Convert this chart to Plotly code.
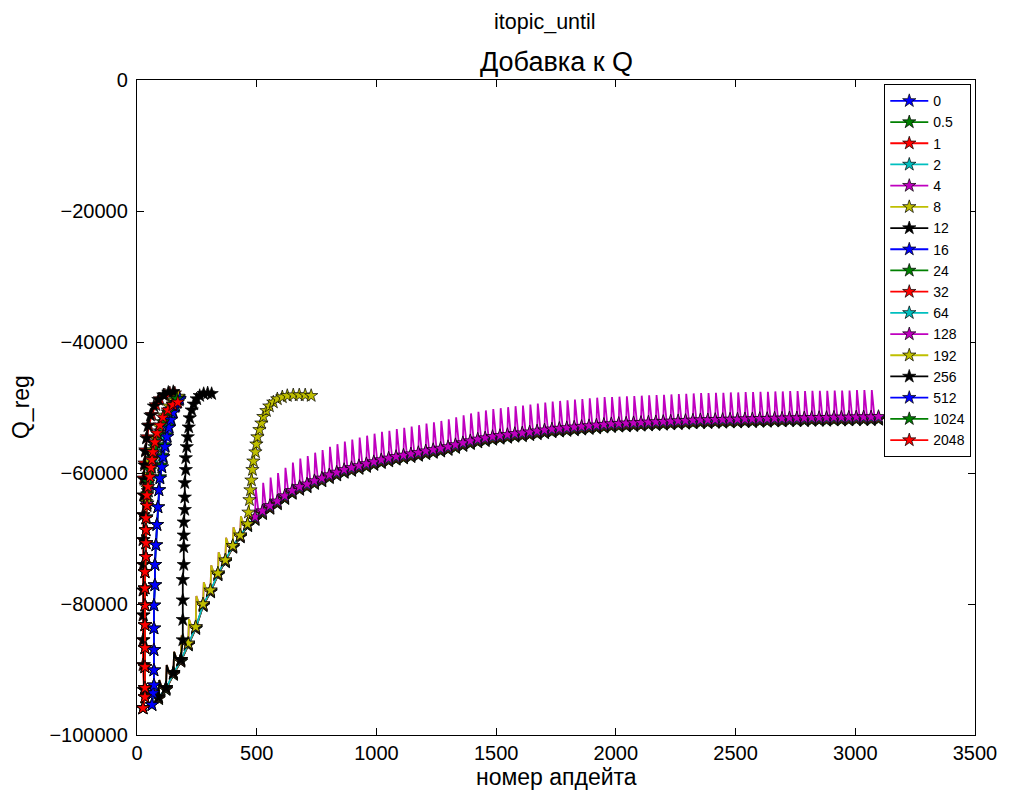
import plotly.graph_objects as go

# ---- series labels and matplotlib-classic colour cycle ----
series_names = ["0", "0.5", "1", "2", "4", "8", "12", "16", "24", "32",
                "64", "128", "192", "256", "512", "1024", "2048"]
cycle = ["#0000ff", "#008000", "#ff0000", "#00bfbf", "#bf00bf", "#bfbf00", "#000000"]

# ---- long runs: update number at the end of every pass ----
pass_updates = list(range(90, 3100, 31))

q4_trough = [
    -94200, -92800, -90500, -88500, -86000, -83500, -80000, -77900, -75300, -73300,
    -71100, -69500, -67800, -66700, -65800, -65000, -64300, -63500, -62700, -62100,
    -61700, -61200, -60800, -60300, -59900, -59500, -59200, -58900, -58600, -58300,
    -58000, -57750, -57500, -57300, -57100, -56900, -56650, -56450, -56250, -56000,
    -55700, -55400, -55100, -54850, -54650, -54450, -54300, -54150, -54000, -53900,
    -53750, -53600, -53450, -53300, -53200, -53100, -53000, -52900, -52800, -52700,
    -52600, -52500, -52450, -52400, -52350, -52300, -52250, -52200, -52150, -52100,
    -52050, -52000, -51950, -51900, -51900, -51850, -51850, -51800, -51800, -51750,
    -51750, -51700, -51700, -51650, -51650, -51600, -51600, -51600, -51550, -51550,
    -51550, -51500, -51500, -51500, -51450, -51450, -51450, -51400]
q4_peak = [
    -91600, -89300, -87300, -84800, -82300, -78800, -76700, -74100, -72100, -69900,
    -68300, -66600, -65500, -62400, -61500, -60700, -60000, -59200, -58400, -57800,
    -57400, -56900, -56500, -56000, -55600, -55200, -54900, -54600, -54300, -54000,
    -53700, -53550, -53300, -53100, -52900, -52700, -52450, -52250, -52050, -51800,
    -51500, -51200, -50900, -50650, -50450, -50250, -50100, -49950, -49800, -49700,
    -49550, -49400, -49250, -49100, -49000, -48900, -48800, -48700, -48600, -48500,
    -48400, -48400, -48350, -48300, -48250, -48200, -48150, -48100, -48050, -48000,
    -47950, -47900, -47850, -47800, -47800, -47750, -47750, -47700, -47700, -47650,
    -47650, -47600, -47600, -47550, -47550, -47500, -47500, -47500, -47450, -47450,
    -47450, -47400, -47400, -47400, -47350, -47350, -47350, -47300]
q2_trough = [
    -94300, -92900, -90600, -88600, -86100, -83600, -80100, -78000, -75400, -73400,
    -71200, -69600, -67900, -66850, -65950, -65150, -64450, -63650, -62850, -62250,
    -61850, -61350, -60950, -60450, -60050, -59650, -59350, -59050, -58750, -58450,
    -58150, -57900, -57650, -57450, -57250, -57050, -56800, -56600, -56400, -56150,
    -55850, -55550, -55250, -55000, -54800, -54600, -54450, -54300, -54150, -54050,
    -53900, -53750, -53600, -53450, -53350, -53250, -53150, -53050, -52950, -52850,
    -52750, -52650, -52600, -52550, -52500, -52450, -52400, -52350, -52300, -52250,
    -52200, -52150, -52100, -52050, -52050, -52000, -52000, -51950, -51950, -51900,
    -51900, -51850, -51850, -51800, -51800, -51750, -51750, -51750, -51700, -51700,
    -51700, -51650, -51650, -51650, -51600, -51600, -51600, -51550]
q1_trough = [
    -94400, -93000, -90700, -88700, -86200, -83700, -80200, -78100, -75500, -73500,
    -71300, -69700, -68000, -67000, -66100, -65300, -64600, -63800, -63000, -62400,
    -62000, -61500, -61100, -60600, -60200, -59800, -59500, -59200, -58900, -58600,
    -58300, -58050, -57800, -57600, -57400, -57200, -56950, -56750, -56550, -56300,
    -56000, -55700, -55400, -55150, -54950, -54750, -54600, -54450, -54300, -54200,
    -54050, -53900, -53750, -53600, -53500, -53400, -53300, -53200, -53100, -53000,
    -52900, -52800, -52750, -52700, -52650, -52600, -52550, -52500, -52450, -52400,
    -52350, -52300, -52250, -52200, -52200, -52150, -52150, -52100, -52100, -52050,
    -52050, -52000, -52000, -51950, -51950, -51900, -51900, -51900, -51850, -51850,
    -51850, -51800, -51800, -51800, -51750, -51750, -51750, -51700]
q05_trough = [
    -94500, -93100, -90800, -88800, -86300, -83800, -80300, -78200, -75600, -73600,
    -71400, -69800, -68100, -67150, -66250, -65450, -64750, -63950, -63150, -62550,
    -62150, -61650, -61250, -60750, -60350, -59950, -59650, -59350, -59050, -58750,
    -58450, -58200, -57950, -57750, -57550, -57350, -57100, -56900, -56700, -56450,
    -56150, -55850, -55550, -55300, -55100, -54900, -54750, -54600, -54450, -54350,
    -54200, -54050, -53900, -53750, -53650, -53550, -53450, -53350, -53250, -53150,
    -53050, -52950, -52900, -52850, -52800, -52750, -52700, -52650, -52600, -52550,
    -52500, -52450, -52400, -52350, -52350, -52300, -52300, -52250, -52250, -52200,
    -52200, -52150, -52150, -52100, -52100, -52050, -52050, -52050, -52000, -52000,
    -52000, -51950, -51950, -51950, -51900, -51900, -51900, -51850]
q0_trough = [
    -94450, -93050, -90750, -88750, -86250, -83750, -80250, -78150, -75550, -73550,
    -71350, -69750, -68050, -67100, -66200, -65400, -64700, -63900, -63100, -62500,
    -62100, -61600, -61200, -60700, -60300, -59900, -59600, -59300, -59000, -58700,
    -58400, -58150, -57900, -57700, -57500, -57300, -57050, -56850, -56650, -56400,
    -56100, -55800, -55500, -55250, -55050, -54850, -54700, -54550, -54400, -54300,
    -54150, -54000, -53850, -53700, -53600, -53500, -53400, -53300, -53200, -53100,
    -53000, -52900, -52850, -52800, -52750, -52700, -52650, -52600, -52550, -52500,
    -52450, -52400, -52350, -52300, -52300, -52250, -52250, -52200, -52200, -52150,
    -52150, -52100, -52100, -52050, -52050, -52000, -52000, -52000, -51950, -51950,
    -51950, -51900, -51900, -51900, -51850, -51850, -51850, -51800]

# ---- itopic_until = 8: shared passes, then a fast climb ----
q8_pass_trough = [-94200, -92800, -90500, -88500, -86000, -83500, -80000,
                  -77900, -75300, -73300, -71100, -69500, -67800]
q8_pass_peak = [-91600, -89300, -87300, -84800, -82300, -78800, -76700,
                -74100, -72100, -69900, -68300, -66600]
q8_x = [465.6, 469.7, 473.9, 478.0, 482.2, 486.3, 494.6, 498.8, 503.0, 511.3, 519.6,
        527.9, 540.4, 552.8, 569.5, 586.1, 606.9, 627.7, 652.6, 677.6, 702.5, 727.4]
q8_y = [-66000, -64100, -62600, -61100, -59500, -58200, -56800, -55600, -54500, -53400,
        -52400, -51400, -50500, -49800, -49200, -48700, -48400, -48200, -48100, -48100,
        -48100, -48200]

# ---- itopic_until = 12 ----
q12_pass_trough = [-94200, -92800, -90500, -88500]
q12_pass_peak = [-91600, -89300, -87300]
q12_x = [191.2, 191.2, 191.2, 191.2, 195.4, 195.4, 195.4, 195.4, 199.5, 199.5, 199.5,
         203.7, 203.7, 207.8, 212.0, 216.1, 220.3, 228.6, 237.0, 249.4, 261.9, 278.5,
         295.1, 311.7]
q12_y = [-85500, -82400, -79400, -76300, -74000, -71300, -69500, -67500, -65600, -63700,
         -61500, -59500, -57700, -56000, -54500, -53000, -51600, -50400, -49500, -48700,
         -48200, -47900, -47800, -47900]

# ---- short runs (itopic_until >= 16) ----
q16_x = [62.4, 66.5, 70.7, 70.7, 70.7, 70.7, 70.7, 74.8, 74.8, 79.0, 83.1, 87.3, 91.4,
         95.6, 103.9, 110.2, 118.5, 126.8, 135.1, 143.4, 151.7, 160.0, 168.3, 176.6]
q16_y = [-95400, -93600, -92400, -90100, -87000, -83700, -80200, -77100, -74000, -71000,
         -67900, -65200, -62600, -60800, -59100, -57500, -55900, -54400, -53000, -51800,
         -50700, -49800, -49200, -48600]
q24_x = [62.4, 66.5, 70.7, 70.7, 70.7, 70.7, 70.7, 74.8, 74.8, 79.0, 83.1, 87.3, 91.4,
         95.6, 101.9, 106.1, 114.4, 122.7, 131.0, 139.3, 147.6, 156.0, 164.3, 174.7]
q24_y = [-95400, -93600, -92400, -90100, -87000, -83700, -80200, -77100, -74000, -71000,
         -67900, -65200, -62600, -60600, -58800, -57300, -55700, -54200, -52800, -51600,
         -50500, -49600, -49000, -48400]
q32_x = [24.9, 29.1, 24.9, 24.9, 24.9, 24.9, 24.9, 24.9, 24.9, 27.0, 27.0, 31.2, 35.3,
         41.6, 49.9, 62.4, 79.0, 95.6, 116.4, 137.2, 158.0]
q32_y = [-95900, -93100, -89300, -85500, -81700, -77900, -74000, -70200, -66400, -63400,
         -60800, -58500, -56500, -54500, -52700, -51100, -49600, -48700, -48100, -47800,
         -47800]
q64_x = [24.9, 33.3, 33.3, 33.3, 33.3, 33.3, 33.3, 33.3, 33.3, 37.4, 37.4, 37.4, 39.5,
         43.6, 47.8, 54.0, 62.4, 70.7, 83.1, 99.8, 120.5, 141.3, 162.1, 176.6]
q64_y = [-95900, -94200, -92800, -89600, -86700, -83200, -80200, -77600, -75100, -72800,
         -70700, -68700, -66700, -64600, -62800, -61000, -59200, -57700, -56000, -54300,
         -52500, -50900, -49700, -48900]
q128_x = [24.9, 33.3, 33.3, 33.3, 33.3, 33.3, 33.3, 33.3, 33.3, 37.4, 37.4, 37.4, 37.4,
          41.6, 45.7, 49.9, 58.2, 66.5, 79.0, 95.6, 116.4, 137.2, 158.0, 174.6]
q128_y = [-95900, -94200, -92800, -89600, -86700, -83200, -80200, -77600, -75100, -72800,
          -70700, -68700, -66900, -64700, -62700, -60700, -58800, -57100, -55300, -53600,
          -51800, -50300, -49300, -48700]
q192_x = [24.9, 33.3, 33.3, 33.3, 33.3, 33.3, 33.3, 33.3, 33.3, 37.4, 37.4, 37.4, 37.4,
          39.5, 43.6, 47.8, 54.0, 62.4, 74.8, 91.4, 112.2, 133.0, 153.8, 172.5]
q192_y = [-95900, -94200, -92800, -89600, -86700, -83200, -80200, -77600, -75100, -72800,
          -70700, -68700, -66900, -64400, -62300, -60200, -58300, -56500, -54700, -52900,
          -51200, -49800, -48900, -48300]
q256_x = [24.9, 29.1, 29.1, 27.0, 27.0, 27.0, 27.0, 27.0, 27.0, 29.1, 29.1, 31.2, 35.3,
          39.5, 45.7, 56.1, 70.7, 89.4, 110.2, 131.0, 151.7]
q256_y = [-95900, -93100, -89300, -85500, -81700, -77900, -74000, -70200, -66400, -63400,
          -61000, -58800, -56700, -54700, -52800, -51200, -49800, -48800, -48100, -47700,
          -47600]
q512_x = [62.4, 66.5, 70.7, 70.7, 70.7, 70.7, 70.7, 74.8, 74.8, 79.0, 83.1, 87.3, 91.4,
          95.6, 103.9, 108.1, 116.4, 124.7, 133.0, 141.3, 149.6, 158.0, 166.3, 178.7]
q512_y = [-95400, -93600, -92400, -90100, -87000, -83700, -80200, -77100, -74000, -71000,
          -67900, -65200, -62600, -60800, -59100, -57600, -56000, -54500, -53100, -51900,
          -50800, -49900, -49300, -48700]
q1024_x = [24.9, 33.3, 33.3, 33.3, 33.3, 33.3, 33.3, 33.3, 33.3, 37.4, 37.4, 37.4, 37.4,
           41.6, 43.6, 47.8, 54.0, 62.4, 72.8, 87.3, 108.1, 128.9, 149.6, 166.3]
q1024_y = [-95900, -94200, -92800, -89600, -86700, -83200, -80200, -77600, -75100, -72800,
           -70700, -68700, -66900, -65000, -63200, -61400, -59600, -57800, -56000, -54100,
           -52200, -50700, -49500, -48700]
q2048_x = [24.9, 33.3, 33.3, 33.3, 33.3, 33.3, 33.3, 33.3, 33.3, 37.4, 37.4, 37.4, 37.4,
           41.6, 41.6, 45.7, 54.0, 58.2, 62.4, 66.5, 74.8, 83.1, 95.6, 108.1, 128.9, 149.6,
           170.4]
q2048_y = [-95900, -94200, -92800, -89600, -86700, -83200, -80200, -77600, -75100, -72800,
           -70700, -68700, -66900, -65000, -63400, -62100, -60600, -59200, -58000, -56800,
           -55300, -53900, -52700, -51500, -50400, -49600, -49200]

x_ticks = [0, 500, 1000, 1500, 2000, 2500, 3000, 3500]
y_ticks = [0, -20000, -40000, -60000, -80000, -100000]
y_tick_text = ["0", "\u221220000", "\u221240000", "\u221260000", "\u221280000", "\u2212100000"]


def pass_curve(xs, troughs, peaks):
    """Line through each pass: end-of-pass value, a jump, then decay to the next pass."""
    lx, ly = [], []
    for i, (x, t) in enumerate(zip(xs, troughs)):
        lx.append(x)
        ly.append(t)
        if i < len(peaks) and i + 1 < len(xs):
            lx += [x + 3, x + 14]
            ly += [peaks[i], troughs[i + 1]]
    return lx, ly


fig = go.Figure()
LINE_W = 1.8
STAR = 10


def add_series(idx, line_x, line_y, mark_x, mark_y):
    color = cycle[idx % len(cycle)]
    fig.add_trace(go.Scatter(x=line_x, y=line_y, mode="lines", showlegend=False,
                             hoverinfo="skip", line=dict(color=color, width=LINE_W)))
    fig.add_trace(go.Scatter(x=mark_x, y=mark_y, mode="markers", showlegend=False,
                             marker=dict(symbol="star", size=STAR, color=color,
                                         line=dict(color="black", width=0.7))))


# long runs
for idx, trough in [(0, q0_trough), (1, q05_trough), (2, q1_trough), (3, q2_trough)]:
    add_series(idx, pass_updates, trough, pass_updates, trough)
lx, ly = pass_curve(pass_updates, q4_trough, q4_peak)
add_series(4, lx, ly, pass_updates, q4_trough)

# itopic_until = 8
p8 = pass_updates[:len(q8_pass_trough)]
lx, ly = pass_curve(p8, q8_pass_trough, q8_pass_peak)
add_series(5, lx + q8_x, ly + q8_y, p8 + q8_x, q8_pass_trough + q8_y)

# itopic_until = 12
p12 = pass_updates[:len(q12_pass_trough)]
lx, ly = pass_curve(p12, q12_pass_trough, q12_pass_peak)
add_series(6, lx + q12_x, ly + q12_y, p12 + q12_x, q12_pass_trough + q12_y)

# short runs
short_runs = [(q16_x, q16_y), (q24_x, q24_y), (q32_x, q32_y), (q64_x, q64_y),
              (q128_x, q128_y), (q192_x, q192_y), (q256_x, q256_y), (q512_x, q512_y),
              (q1024_x, q1024_y), (q2048_x, q2048_y)]
for j, (sx, sy) in enumerate(short_runs):
    add_series(7 + j, sx, sy, sx, sy)

# legend entries
for idx, name in enumerate(series_names):
    color = cycle[idx % len(cycle)]
    fig.add_trace(go.Scatter(x=[None], y=[None], mode="lines+markers", name=name,
                             line=dict(color=color, width=LINE_W),
                             marker=dict(symbol="star", size=STAR, color=color,
                                         line=dict(color="black", width=0.7))))

FONT = "Liberation Sans, Arial, sans-serif"
axis_common = dict(showgrid=False, zeroline=False, showline=True, linecolor="black",
                   linewidth=1.3, mirror="ticks", ticks="inside", ticklen=7,
                   tickwidth=1, tickcolor="black",
                   tickfont=dict(family=FONT, size=20, color="black"))

fig.update_layout(
    width=1009, height=794,
    paper_bgcolor="white", plot_bgcolor="white",
    margin=dict(l=137, r=30, t=80, b=59),
    font=dict(family=FONT, color="black"),
    xaxis=dict(range=[0, 3500], tickvals=x_ticks, **axis_common),
    yaxis=dict(range=[-100000, 0], tickvals=y_ticks, ticktext=y_tick_text,
               ticklabelstandoff=4, **axis_common),
    legend=dict(x=0.9952, y=0.994, xanchor="right", yanchor="top",
                bgcolor="white", bordercolor="black", borderwidth=1.3,
                font=dict(family=FONT, size=14, color="black"),
                tracegroupgap=0, itemwidth=38),
    annotations=[
        dict(text="itopic_until", x=0.487, y=1.0885, xref="paper", yref="paper",
             xanchor="center", yanchor="middle", showarrow=False, font=dict(size=21.5)),
        dict(text="Добавка к Q", x=0.5, y=1.0275, xref="paper", yref="paper",
             xanchor="center", yanchor="middle", showarrow=False, font=dict(size=27)),
        dict(text="номер апдейта", x=0.5, y=-0.064, xref="paper", yref="paper",
             xanchor="center", yanchor="middle", showarrow=False, font=dict(size=23)),
        dict(text="Q_reg", x=-0.139, y=0.5, xref="paper", yref="paper", textangle=-90,
             xanchor="center", yanchor="middle", showarrow=False, font=dict(size=23)),
    ],
)

fig.write_html("out.html")
